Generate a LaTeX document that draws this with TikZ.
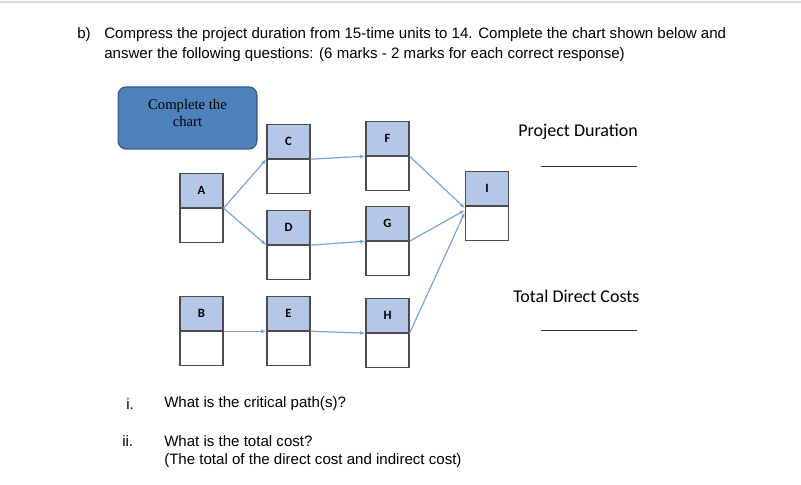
\documentclass[tikz,border=0pt]{standalone}
\usepackage{fontspec}
\setmainfont{Liberation Sans}
\newfontfamily\carl{Carlito}
\newfontfamily\tms{Liberation Serif}
\usetikzlibrary{arrows.meta}
\definecolor{hdr}{HTML}{B4C7E7}
\definecolor{arr}{HTML}{7DA2E3}
\definecolor{cbox}{HTML}{4F81BD}
\definecolor{cbord}{HTML}{385D8A}
\tikzset{
 half/.style={draw=black!70,line width=0.9pt,minimum width=32.25pt,minimum height=25.5pt,inner sep=0pt},
 top/.style={half,fill=hdr,font=\carl\bfseries\fontsize{9.5}{10}\selectfont},
 link/.style={draw=arr,line width=0.9pt,-{Latex[length=4pt,width=3pt]}},
 txt/.style={anchor=west,inner sep=0pt,font=\fontsize{11.3}{13}\selectfont},
}
\begin{document}
\begin{tikzpicture}[x=0.75pt,y=-0.75pt]
\useasboundingbox (0,0) rectangle (801,485);
\draw[black!15,line width=1.5pt] (0,2) -- (801,2);
\node[txt] (t0) at (77,35) {b)};
\node[txt] (t1) at (104,35) {Compress the project duration from 15-time units to 14. Complete the chart shown below and};
\node[txt] (t2) at (104,55) {answer the following questions: (6 marks - 2 marks for each correct response)};
\node[draw=cbord,line width=1pt,fill=cbox,rounded corners=6pt,minimum width=104pt,minimum height=46.5pt,align=center,inner sep=0pt,font=\tms\fontsize{11}{12}\selectfont,text depth=0pt] (cc) at (187.5,118) {\raisebox{8pt}{\shortstack{Complete the\\chart}}};
% boxes: name, x center, top
\foreach \n/\x/\y in {A/201.5/173,C/288.5/124,F/387.5/121,I/487/171,D/288.5/210,G/387.5/206,B/201.5/296,E/288.5/296,H/387.5/298}{
  \node[top,anchor=north] (\n t) at (\x,\y) {\n};
  \node[half,anchor=north] (\n b) at (\n t.south) {};
}
\draw[link] (At.south east) -- (Ct.south west);
\draw[link] (At.south east) -- (Dt.south west);
\draw[link] (Ct.south east) -- (Ft.south west);
\draw[link] (Dt.south east) -- (Gt.south west);
\draw[link] (Bt.south east) -- (Et.south west);
\draw[link] (Et.south east) -- (Ht.south west);
\draw[link] (Ft.south east) -- ([yshift=-1.5pt]It.south west);
\draw[link] (Gt.south east) -- ([yshift=-3pt]It.south west);
\draw[link] (Ht.south east) -- ([yshift=-4.5pt]It.south west);
\node[txt,font=\carl\fontsize{13.5}{15}\selectfont] (pd) at (518,132) {Project Duration};
\coordinate (l1a) at (541,166); \coordinate (l1b) at (637,166);
\draw[black!80,line width=0.6pt] (l1a) -- (l1b);
\node[txt,font=\carl\fontsize{13.5}{15}\selectfont] (td) at (513,296) {Total Direct Costs};
\coordinate (l2a) at (541,330); \coordinate (l2b) at (637,330);
\draw[black!80,line width=0.6pt] (l2a) -- (l2b);
\node[txt] (q1n) at (126,404) {i.};
\node[txt] (q1) at (164,404) {What is the critical path(s)?};
\node[txt] (q2n) at (122,441) {ii.};
\node[txt] (q2) at (164,441) {What is the total cost?};
\node[txt] (q3) at (164,461) {(The total of the direct cost and indirect cost)};
\end{tikzpicture}
\end{document}
